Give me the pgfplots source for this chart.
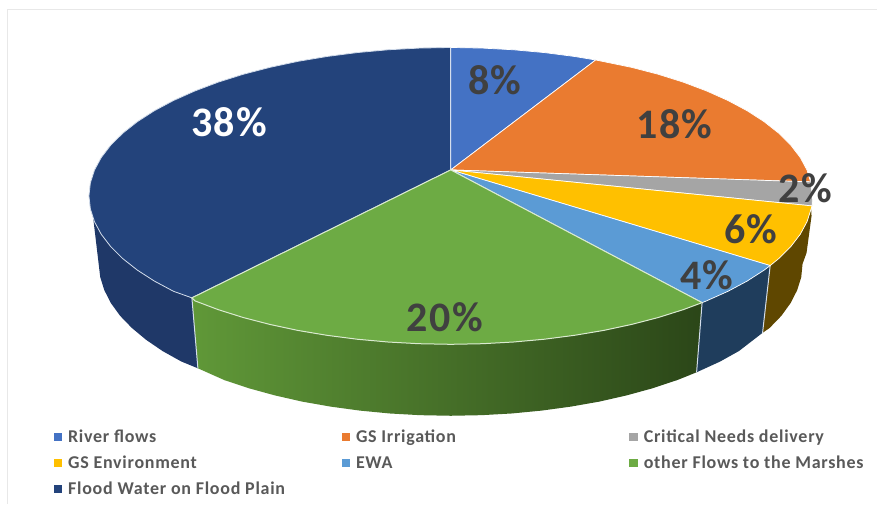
\documentclass[border=0pt]{standalone}
\usepackage{fontspec}
\setmainfont{Carlito}
\usepackage{pgfplots}
\pgfplotsset{compat=1.18}
\definecolor{cRiver}{HTML}{4472C4}
\definecolor{cIrr}{HTML}{EA7B30}
\definecolor{cCrit}{HTML}{A5A5A5}
\definecolor{cEnv}{HTML}{FFC000}
\definecolor{cEwa}{HTML}{5B9BD5}
\definecolor{cOther}{HTML}{6DAB44}
\definecolor{cFlood}{HTML}{23437B}
\definecolor{wFlood}{HTML}{1F3868}
\definecolor{wEwa}{HTML}{1F3D5C}
\definecolor{wEnv}{HTML}{5F4700}
\definecolor{wOtherL}{HTML}{609838}
\definecolor{wOtherM}{HTML}{41672A}
\definecolor{wOtherR}{HTML}{2B4618}
\definecolor{rimL}{HTML}{D3DDEB}
\definecolor{txt}{HTML}{404040}
\definecolor{leg}{HTML}{595959}
\definecolor{frame}{HTML}{E8E8E8}
\newcommand{\pct}[4]{\node[text=#4,font=\fontsize{42}{42}\selectfont\bfseries,inner sep=0pt] at (axis cs:#1,#2) {\addfontfeature{LetterSpace=3}#3\%};}
\newcommand{\lab}[3]{\node[anchor=base west,text=leg,inner sep=0pt,font=\fontsize{18}{18}\selectfont\bfseries] at (axis cs:#1,#2) {\addfontfeature{LetterSpace=4}#3};}
\begin{document}
\begin{tikzpicture}
\begin{axis}[
  width=877pt,height=504pt,scale only axis,
  xmin=0,xmax=877,ymin=0,ymax=504,y dir=reverse,
  hide axis,clip=false]
% background and frame
\addplot[fill=white,draw=none] coordinates {(0,0)(877,0)(877,504)(0,504)} --cycle;
\addplot[draw=frame,line width=1pt] coordinates {(8,504)(8,9)(877,9)};
% walls
\addplot[fill=wFlood,draw=none] coordinates {(192,298)(173.7,291.5)(154.4,281.2)(137.5,270.3)(122.9,258.8)(110.8,246.8)(101.3,234.4)(94.5,221.8)(93,216)(100.3,277.3)(104.4,290.4)(111,303.3)(120.2,316)(132,328.2)(146.2,340)(162.6,351.2)(181.4,361.7)(198,368.5)} --cycle;
\addplot[shade,left color=wOtherL,middle color=wOtherM,right color=wOtherR,draw=none] coordinates {(192,298)(195,301)(218.3,309.8)(243.4,317.7)(270,324.6)(298,330.6)(327.2,335.5)(357.3,339.4)(388.2,342.2)(419.4,343.9)(451,344.5)(482.6,343.9)(513.8,342.2)(544.7,339.4)(574.8,335.5)(604,330.6)(632,324.6)(658.6,317.7)(683.7,309.8)(702.5,302.8)(697,372.5)(677.3,380.4)(652.9,388.5)(627,395.6)(599.8,401.8)(571.4,406.8)(542.1,410.8)(512.1,413.7)(481.7,415.4)(451,416)(420.3,415.4)(389.9,413.7)(359.9,410.8)(330.6,406.8)(302.2,401.8)(275,395.6)(249.1,388.5)(224.7,380.4)(198,368.5)} --cycle;
\addplot[fill=wEwa,draw=none] coordinates {(702.5,302.8)(728.3,291.5)(747.6,281.2)(770.6,265.7)(763,333)(739.4,351.2)(720.6,361.7)(697,372.5)} --cycle;
\addplot[fill=wEnv,draw=none] coordinates {(770.6,265.7)(779.1,258.8)(791.2,246.8)(800.7,234.4)(807.5,221.8)(811.6,208.9)(812,216)(807,253)(803,264)(801.7,277.3)(797.6,290.4)(791,303.3)(781.8,316)(770,328.2)(763,333)} --cycle;
% wall separators
\addplot[draw=rimL,line width=1pt] coordinates {(192,298)(198,368.5)};
\addplot[draw=rimL,line width=1pt] coordinates {(702.5,302.8)(697,372.5)};
\addplot[draw=rimL,line width=1pt] coordinates {(770.6,265.7)(763,333)};
% top faces
\addplot[fill=cFlood,draw=rimL,line width=.8pt,line join=round] coordinates {(451,170)(192,298)(173.7,291.5)(154.4,281.2)(137.5,270.3)(122.9,258.8)(110.8,246.8)(101.3,234.4)(94.5,221.8)(90.4,208.9)(89,196)(90.4,183.1)(94.5,170.2)(101.3,157.6)(110.8,145.2)(122.9,133.2)(137.5,121.7)(154.4,110.8)(173.7,100.5)(195,91)(218.3,82.2)(243.4,74.3)(270,67.4)(298,61.4)(327.2,56.5)(357.3,52.6)(388.2,49.8)(419.4,48.1)(451,47.5)} --cycle;
\addplot[fill=cRiver,draw=white,line width=.7pt,line join=round] coordinates {(451,170)(451,47.5)(482.6,48.1)(513.8,49.8)(544.7,52.6)(574.8,56.5)(596,60)} --cycle;
\addplot[fill=cIrr,draw=white,line width=.7pt,line join=round] coordinates {(451,170)(596,60)(632,67.4)(658.6,74.3)(683.7,82.2)(707,91)(728.3,100.5)(747.6,110.8)(764.5,121.7)(779.1,133.2)(791.2,145.2)(800.7,157.6)(807.5,170.2)(811,182)} --cycle;
\addplot[fill=cCrit,draw=white,line width=.7pt,line join=round] coordinates {(451,170)(811,182)(813,196)(812.5,206)} --cycle;
\addplot[fill=cEnv,draw=white,line width=.7pt,line join=round] coordinates {(451,170)(812.5,206)(811.6,208.9)(807.5,221.8)(800.7,234.4)(791.2,246.8)(779.1,258.8)(770.6,265.7)} --cycle;
\addplot[fill=cEwa,draw=white,line width=.7pt,line join=round] coordinates {(451,170)(770.6,265.7)(764.5,270.3)(747.6,281.2)(728.3,291.5)(707,301)(702.5,302.8)} --cycle;
\addplot[fill=cOther,draw=white!75!cOther,line width=1pt,line join=round] coordinates {(451,170)(702.5,302.8)(683.7,309.8)(658.6,317.7)(632,324.6)(604,330.6)(574.8,335.5)(544.7,339.4)(513.8,342.2)(482.6,343.9)(451,344.5)(419.4,343.9)(388.2,342.2)(357.3,339.4)(327.2,335.5)(298,330.6)(270,324.6)(243.4,317.7)(218.3,309.8)(195,301)(192,298)} --cycle;
% percentage labels
\pct{495}{80}{8}{txt}
\pct{675}{124}{18}{txt}
\pct{806}{188}{2}{txt}
\pct{751}{229}{6}{txt}
\pct{707}{275}{4}{txt}
\pct{445}{317}{20}{txt}
\pct{229}{122}{38}{white}
% legend
\addplot[only marks,mark=square*,mark size=3.6pt,color=cRiver] coordinates {(57.5,437)};
\addplot[only marks,mark=square*,mark size=3.6pt,color=cIrr] coordinates {(345.5,437)};
\addplot[only marks,mark=square*,mark size=3.6pt,color=cCrit] coordinates {(633.5,437)};
\addplot[only marks,mark=square*,mark size=3.6pt,color=cEnv] coordinates {(57.5,463)};
\addplot[only marks,mark=square*,mark size=3.6pt,color=cEwa] coordinates {(345.5,463)};
\addplot[only marks,mark=square*,mark size=3.6pt,color=cOther] coordinates {(633.5,463)};
\addplot[only marks,mark=square*,mark size=3.6pt,color=cFlood] coordinates {(57.5,489)};
\lab{68}{442.5}{River flows}
\lab{356}{442.5}{GS Irrigation}
\lab{644}{442.5}{Critical Needs delivery}
\lab{68}{468.5}{GS Environment}
\lab{356}{468.5}{EWA}
\lab{644}{468.5}{other Flows to the Marshes}
\lab{68}{494.5}{Flood Water on Flood Plain}
\end{axis}
\end{tikzpicture}
\end{document}
